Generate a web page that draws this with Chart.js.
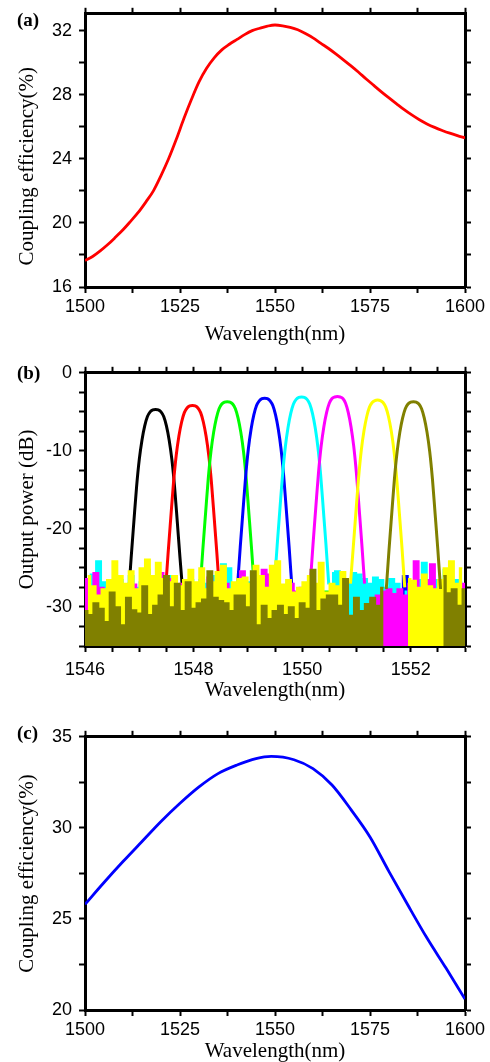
<!DOCTYPE html>
<html><head><meta charset="utf-8">
<script src="https://cdn.jsdelivr.net/npm/chart.js@4/dist/chart.umd.min.js"></script>
<style>
html,body{margin:0;padding:0;background:#fff;}
#wrap{position:relative;width:490px;height:1062px;overflow:hidden;background:#fff;}
canvas{position:absolute;left:0;}
</style></head><body>
<div id="wrap">
<canvas id="ca" width="490" height="354" style="top:-4px"></canvas>
<canvas id="cb" width="490" height="351" style="top:355px"></canvas>
<canvas id="cc" width="490" height="347" style="top:719px"></canvas>
</div>
<script>
// ---------- Panel (a) ----------
const aWavelength = [1500,1502,1504,1506,1508,1510,1512,1514,1516,1518,1520,1522,1524,1526,1528,1530,1532,1534,1536,1538,1540,1542,1544,1546,1548,1550,1552,1554,1556,1558,1560,1562,1564,1566,1568,1570,1572,1574,1576,1578,1580,1582,1584,1586,1588,1590,1592,1594,1596,1598,1600];
const aEfficiency = [17.65,17.9,18.25,18.65,19.1,19.57,20.1,20.65,21.3,22.0,22.95,24.0,25.2,26.5,27.7,28.8,29.65,30.3,30.8,31.15,31.45,31.75,32.0,32.15,32.28,32.35,32.3,32.2,32.05,31.82,31.55,31.22,30.9,30.55,30.18,29.8,29.4,28.98,28.58,28.18,27.8,27.43,27.07,26.74,26.44,26.18,25.96,25.77,25.6,25.45,25.31];

// ---------- Panel (c) ----------
const cWavelength = [1500,1505,1510,1515,1520,1525,1530,1535,1540,1545,1549,1555,1560,1565,1570,1575,1580,1585,1590,1595,1600];
const cEfficiency = [25.8,27.0,28.15,29.25,30.35,31.35,32.25,32.98,33.45,33.8,33.92,33.74,33.25,32.35,31.0,29.5,27.6,25.75,23.95,22.3,20.6];

// ---------- Panel (b) ----------
const channelNames = ['black','red','green','blue','cyan','magenta','yellow','olive'];
const channelColors = ['#000000','#ff0000','#00ff00','#0000ff','#00ffff','#ff00ff','#ffff00','#808000'];
const peakCenters = [1547.30,1547.98,1548.62,1549.31,1549.99,1550.65,1551.39,1552.05];
const peakOffsets = [-0.5,-0.45,-0.4,-0.35,-0.3,-0.25,-0.2,-0.15,-0.1,-0.05,0,0.05,0.1,0.15,0.2,0.25,0.3,0.35,0.4,0.45,0.5];
const blackPeak   = [-28.7,-23.7,-19.1,-14.6,-11.1,-8.6,-6.8,-5.6,-5.0,-4.75,-4.7,-4.75,-5.0,-5.6,-6.8,-8.6,-11.1,-14.6,-19.1,-23.7,-28.0];
const redPeak     = [-28.2,-23.2,-18.6,-14.1,-10.6,-8.1,-6.3,-5.1,-4.5,-4.25,-4.2,-4.25,-4.5,-5.1,-6.3,-8.1,-10.6,-14.1,-18.6,-23.2,-28.2];
const greenPeak   = [-27.7,-22.7,-18.1,-13.6,-10.1,-7.6,-5.8,-4.6,-4.0,-3.75,-3.7,-3.75,-4.0,-4.6,-5.8,-7.6,-10.1,-13.6,-18.1,-22.7,-27.7];
const bluePeak    = [-27.3,-22.3,-17.7,-13.2,-9.7,-7.2,-5.4,-4.2,-3.6,-3.3,-3.25,-3.3,-3.6,-4.2,-5.4,-7.2,-9.7,-13.2,-17.7,-22.3,-27.3];
const cyanPeak    = [-27.1,-22.1,-17.5,-13.0,-9.5,-7.0,-5.2,-4.0,-3.4,-3.15,-3.1,-3.15,-3.4,-4.0,-5.2,-7.0,-9.5,-13.0,-17.5,-22.1,-27.1];
const magentaPeak = [-27.0,-22.0,-17.4,-12.9,-9.4,-6.9,-5.1,-3.9,-3.3,-3.1,-3.05,-3.1,-3.3,-3.9,-5.1,-6.9,-9.4,-12.9,-17.4,-22.0,-27.0];
const yellowPeak  = [-27.0,-22.5,-17.9,-13.4,-9.9,-7.4,-5.6,-4.4,-3.8,-3.55,-3.5,-3.55,-3.8,-4.4,-5.6,-7.4,-9.9,-13.4,-17.9,-22.5,-27.5];
const olivePeak   = [-27.7,-22.7,-18.1,-13.6,-10.1,-7.6,-5.8,-4.6,-4.0,-3.75,-3.7,-3.75,-4.0,-4.6,-5.8,-7.6,-10.1,-13.6,-18.1,-22.7,-27.7];

// noise floor sampling grids (nm)
const gridA = [1546.0,1546.1,1546.2,1546.3,1546.4,1546.5,1546.6,1546.7,1546.8,1546.9,
1547.0,1547.1,1547.2,1547.3,1547.4,1547.5,1547.6,1547.7,1547.8,1547.9,
1548.0,1548.1,1548.2,1548.3,1548.4,1548.5,1548.6,1548.7,1548.8,1548.9,
1549.0,1549.1,1549.2,1549.3,1549.4,1549.5,1549.6,1549.7,1549.8,1549.9,
1550.0,1550.1,1550.2,1550.3,1550.4,1550.5,1550.6,1550.7,1550.8,1550.9,
1551.0,1551.1,1551.2,1551.3,1551.4,1551.5,1551.6,1551.7,1551.8,1551.9,
1552.0,1552.1,1552.2,1552.3,1552.4,1552.5,1552.6,1552.7,1552.8,1552.9,1553.0];
const gridB = [1546.05,1546.15,1546.25,1546.35,1546.45,1546.55,1546.65,1546.75,1546.85,1546.95,
1547.05,1547.15,1547.25,1547.35,1547.45,1547.55,1547.65,1547.75,1547.85,1547.95,
1548.05,1548.15,1548.25,1548.35,1548.45,1548.55,1548.65,1548.75,1548.85,1548.95,
1549.05,1549.15,1549.25,1549.35,1549.45,1549.55,1549.65,1549.75,1549.85,1549.95,
1550.05,1550.15,1550.25,1550.35,1550.45,1550.55,1550.65,1550.75,1550.85,1550.95,
1551.05,1551.15,1551.25,1551.35,1551.45,1551.55,1551.65,1551.75,1551.85,1551.95,
1552.05,1552.15,1552.25,1552.35,1552.45,1552.55,1552.65,1552.75,1552.85,1552.95];
const N = null;
// noise floor levels (dB); null where the channel shows its passband
const oliveNoise = [-30.5,-31.0,-29.5,-30.2,-31.9,-28.1,-30.0,-32.3,-28.8,-30.4,
-30.8,-27.3,-31.0,-29.8,-28.5,-26.0,-30.0,-27.0,-30.5,-26.8,
-30.2,-29.5,-29.0,-25.4,-28.8,-29.2,-29.5,-30.5,-28.5,-28.5,
-30.0,-25.4,-32.3,-29.8,-31.5,-30.5,-29.8,-31.0,-30.0,-31.5,
-29.5,-30.2,-25.2,-30.5,-29.0,-28.5,-28.5,-29.8,-26.4,-31.1,
-28.8,-30.5,-29.6,-28.8,-29.8,-27.5,N,N,N,N,
N,N,N,N,N,N,-26.0,-28.2,-27.7,-29.8,-27.7];
const yellowNoise = [-26.0,-27.3,-28.5,-27.7,-26.5,-24.1,-26.0,-27.0,-25.4,-27.7,
-25.0,-23.9,-26.0,-24.3,-26.4,-26.8,-26.0,-27.3,-26.5,-25.2,
-26.8,-25.0,-27.7,-26.8,-25.5,-24.7,-27.7,-26.8,-26.4,-26.2,
-27.0,-24.7,-26.0,-27.5,-24.7,-24.1,-27.1,-26.5,-28.1,-27.5,
-26.8,-26.0,-27.0,-24.3,-28.1,-27.0,-27.3,-25.5,-26.5,N,
N,N,N,N,N,N,N,N,N,-26.4,
-26.6,-27.5,-25.8,-27.3,-27.7,-26.5,-25.0,-24.1,-27.0,-25.0];
const magentaNoise = [-26.4,-27.5,-25.6,-27.5,-28.5,-27.0,-28.0,-27.5,-28.5,-27.1,
-28.0,-27.8,-28.5,-27.5,-25.6,-28.0,-26.4,-28.0,-27.0,-27.5,
-28.2,-27.8,-28.5,-26.2,-27.5,-28.0,-27.0,-28.5,-27.5,-25.4,
-27.8,-28.0,-27.0,-25.2,-25.8,-28.0,-27.5,-28.5,-27.0,-28.0,
-27.5,-28.0,N,N,N,N,N,N,N,N,
N,N,-31.0,-29.0,-28.5,-28.0,-27.7,-28.3,-27.7,-28.5,
-27.0,-24.1,-27.5,-26.5,-24.5,-28.0,-33.0,-28.0,-27.5,-28.5,-27.0];
const cyanNoise = [-26.5,-25.8,-24.1,-26.8,-26.8,-27.5,-26.5,-27.5,-26.0,-27.5,
-26.8,-25.2,-27.0,-26.5,-27.5,-26.0,-27.0,-28.5,-27.0,-26.5,
-27.5,-26.5,-27.0,-26.0,-27.0,-24.5,-25.0,-27.0,-26.5,-27.5,
-26.8,-27.5,-26.5,-27.0,-26.5,N,N,N,N,N,
N,N,N,N,N,-25.6,-25.4,-26.4,-27.0,-25.6,
-25.8,-26.4,-27.0,-26.2,-26.5,-27.5,-26.4,-27.0,-29.5,-28.0,
-27.5,-26.5,-24.3,-27.0,-26.5,-27.5,-25.2,-27.0,-26.5,-26.8];
const blueNoise = [-28.5,-29,-28,-29.5,-28.5,-28,-29,-28.5,-29.5,-28,
-29,-28.5,-28,-29.5,-28.5,-29,-28,-28.5,-29,-28,
-29.5,-28.5,-28,-29,-28.5,-28,-29.5,-28.5,-28,N,
N,N,N,N,N,N,N,N,-28.7,-29,
-28.5,-29.5,-28,-29,-28.5,-29,-28,-29.5,-28.5,-29,
-28,-29,-28.5,-29,-27.2,-28.5,-29,-28,-28.5,-26.0,
-28,-28.5,-27.5,-26.6,-28.5,-28,-29,-28.5,-28,-29,-28.5];
const greenNoise = [-29.5,-28.5,-29,-28,-29.5,-28.5,-29,-30,-28.5,-29,
-28,-29.5,-28.5,-29,-30,-28.5,-29,-28.5,-29.5,-28,
-29,N,N,N,N,N,N,N,N,N,
N,-28.5,-29,-28,-29.5,-28.5,-29,-30,-28.5,-29,
-28,-29.5,-28.5,-29,-28,-29.5,-28.5,-29,-30,-28.5,
-29,-28.5,-29.5,-28,-29,-28.5,-29.5,-27.8,-29,-28.5,
-30,-29,-28.5,-29.5,-28,-29,-28.5,-29.5,-28,-29];
const redNoise = [-29,-28.5,-29.5,-28,-29,-30,-28.5,-29,-28,-29.5,
-28.5,-29,-30,-28.5,-29,N,N,N,N,N,
N,N,N,N,N,-28.5,-29,-28,-29.5,-28.5,
-29,-30,-28.5,-29,-28,-29.5,-28.5,-29,-28,-29.5,
-28.5,-29,-30,-28.5,-29,-28.5,-29.5,-28,-29,-28.5,
-29.5,-28,-29,-28.5,-30,-29,-28.5,-29.5,-28,-29,
-28.5,-29.5,-28,-29,-28.5,-29.5,-28,-29,-28.5,-29.5,-29];
const blackNoise = [-29,-28.5,-30,-28.5,-29.5,-28,-29,-28.5,N,N,
N,N,N,N,N,N,N,N,-28.2,-29,
-28.5,-30,-29,-28,-29.5,-28.5,-29,-30,-28.5,-29,
-28,-29.5,-28.5,-29,-30,-28.5,-29,-28.5,-29.5,-28,
-29,-28.5,-30,-29,-28.5,-29.5,-28,-29,-28.5,-29.5,
-28,-29,-27.5,-28.5,-29.5,-28,-28.5,-29,-28.5,-29.5,
-28,-29,-28.5,-29.5,-28,-29,-28.5,-29.5,-28.5,-29];

const peaks = [blackPeak,redPeak,greenPeak,bluePeak,cyanPeak,magentaPeak,yellowPeak,olivePeak];
const noises = [blackNoise,redNoise,greenNoise,blueNoise,cyanNoise,magentaNoise,yellowNoise,oliveNoise];
const noiseGrids = [gridB,gridA,gridB,gridA,gridB,gridA,gridB,gridA];

// ---------- common styling ----------
Chart.defaults.font.family = '"Liberation Sans", Arial, sans-serif';
Chart.defaults.color = '#000';
const SERIF = '"Liberation Serif", "Times New Roman", serif';

function isMajor(v, m) { return Math.abs(v / m - Math.round(v / m)) < 1e-6; }

function frameScales(o) {
  const grid = {display:true, drawOnChartArea:false, drawTicks:true, tickLength:6, tickWidth:2, tickColor:'#000', color:'#000'};
  const border = {display:true, color:'#000', width:3};
  const tfont = {family:'"Liberation Sans", Arial, sans-serif', size:18};
  return {
    x: {type:'linear', position:'bottom', min:o.xmin, max:o.xmax, border, grid,
        ticks:{stepSize:o.xstep, includeBounds:false, autoSkip:false, maxRotation:0, minRotation:0, padding:o.xpad, color:'#000', font:tfont,
               callback:(v)=> isMajor(v, o.xmajor) ? String(v) : ''},
        title:{display:true, text:o.xtitle, color:'#000', font:{family:SERIF, size:21}, padding:{top:0, bottom:o.xtitlePad}},
        afterFit:(s)=>{ s.height = o.xh; }},
    x2: {type:'linear', position:'top', min:o.xmin, max:o.xmax, border, grid,
        ticks:{display:false, stepSize:o.xstep, includeBounds:false, autoSkip:false},
        afterFit:(s)=>{ s.height = 14; }},
    y: {type:'linear', position:'left', min:o.ymin, max:o.ymax, border, grid,
        ticks:{stepSize:o.ystep, includeBounds:false, autoSkip:false, padding:7, color:'#000', font:tfont,
               callback:(v)=> isMajor(v, o.ymajor) ? String(v) : ''},
        title:{display:true, text:o.ytitle, color:'#000', font:{family:SERIF, size:21}, padding:{top:15, bottom:0}},
        afterFit:(s)=>{ s.width = 85; }},
    y2: {type:'linear', position:'right', min:o.ymin, max:o.ymax, border, grid,
        ticks:{display:false, stepSize:o.ystep, includeBounds:false, autoSkip:false},
        afterFit:(s)=>{ s.width = 25; }}
  };
}

function panelLabel(txt, y) {
  return {id:'panelLabel', afterDraw(chart){
    const c = chart.ctx; c.save();
    c.font = 'bold 19px ' + SERIF; c.fillStyle = '#000';
    c.textBaseline = 'middle'; c.textAlign = 'left';
    c.fillText(txt, 17, y); c.restore();
  }};
}

const baseOpts = {responsive:false, animation:false, layout:{padding:0},
  plugins:{legend:{display:false}, tooltip:{enabled:false}}};

// Panel (a)
new Chart(document.getElementById('ca'), {
  type:'line',
  data:{datasets:[{data:aWavelength.map((x,i)=>({x, y:aEfficiency[i]})), borderColor:'#ff0000', borderWidth:2.8,
        pointRadius:0, fill:false, cubicInterpolationMode:'monotone'}]},
  options:Object.assign({}, baseOpts, {scales:frameScales({xmin:1500,xmax:1600,xstep:12.5,xmajor:25,
        ymin:16,ymax:33.05,ystep:2,ymajor:4,xpad:3,xtitlePad:3.4,xh:63,
        xtitle:'Wavelength(nm)', ytitle:'Coupling efficiency(%)\u00a0\u00a0\u00a0\u00a0\u00a0\u00a0'})}),
  plugins:[panelLabel('(a)', 25.5)]
});

// Panel (b)
const bDatasets = [];
for (let c = channelNames.length - 1; c >= 0; c--) {
  const col = channelColors[c];
  bDatasets.push({label:channelNames[c] + ' passband',
    data:peakOffsets.map((d,i)=>({x:peakCenters[c] + d, y:peaks[c][i]})),
    borderColor:col, borderWidth:3, pointRadius:0, fill:false, cubicInterpolationMode:'monotone'});
  bDatasets.push({label:channelNames[c] + ' floor',
    data:noiseGrids[c].map((x,i)=>({x, y:noises[c][i]})),
    borderColor:col, backgroundColor:col, borderWidth:1.5, pointRadius:0, stepped:'middle', fill:'start', spanGaps:false});
}
new Chart(document.getElementById('cb'), {
  type:'line',
  data:{datasets:bDatasets},
  options:Object.assign({}, baseOpts, {scales:frameScales({xmin:1546,xmax:1553,xstep:0.5,xmajor:2,
        ymin:-35,ymax:0,ystep:2.5,ymajor:10,xpad:7.2,xtitlePad:3.4,xh:60,
        xtitle:'Wavelength(nm)', ytitle:'Output power (dB)'})}),
  plugins:[panelLabel('(b)', 19)]
});

// Panel (c)
new Chart(document.getElementById('cc'), {
  type:'line',
  data:{datasets:[{data:cWavelength.map((x,i)=>({x, y:cEfficiency[i]})), borderColor:'#0000ff', borderWidth:2.8,
        pointRadius:0, fill:false, cubicInterpolationMode:'monotone'}]},
  options:Object.assign({}, baseOpts, {scales:frameScales({xmin:1500,xmax:1600,xstep:12.5,xmajor:25,
        ymin:20,ymax:35,ystep:2.5,ymajor:5,xpad:3.2,xtitlePad:2.4,xh:56,
        xtitle:'Wavelength(nm)', ytitle:'Coupling efficiency(%)'})}),
  plugins:[panelLabel('(c)', 15)]
});
</script>
</body></html>
